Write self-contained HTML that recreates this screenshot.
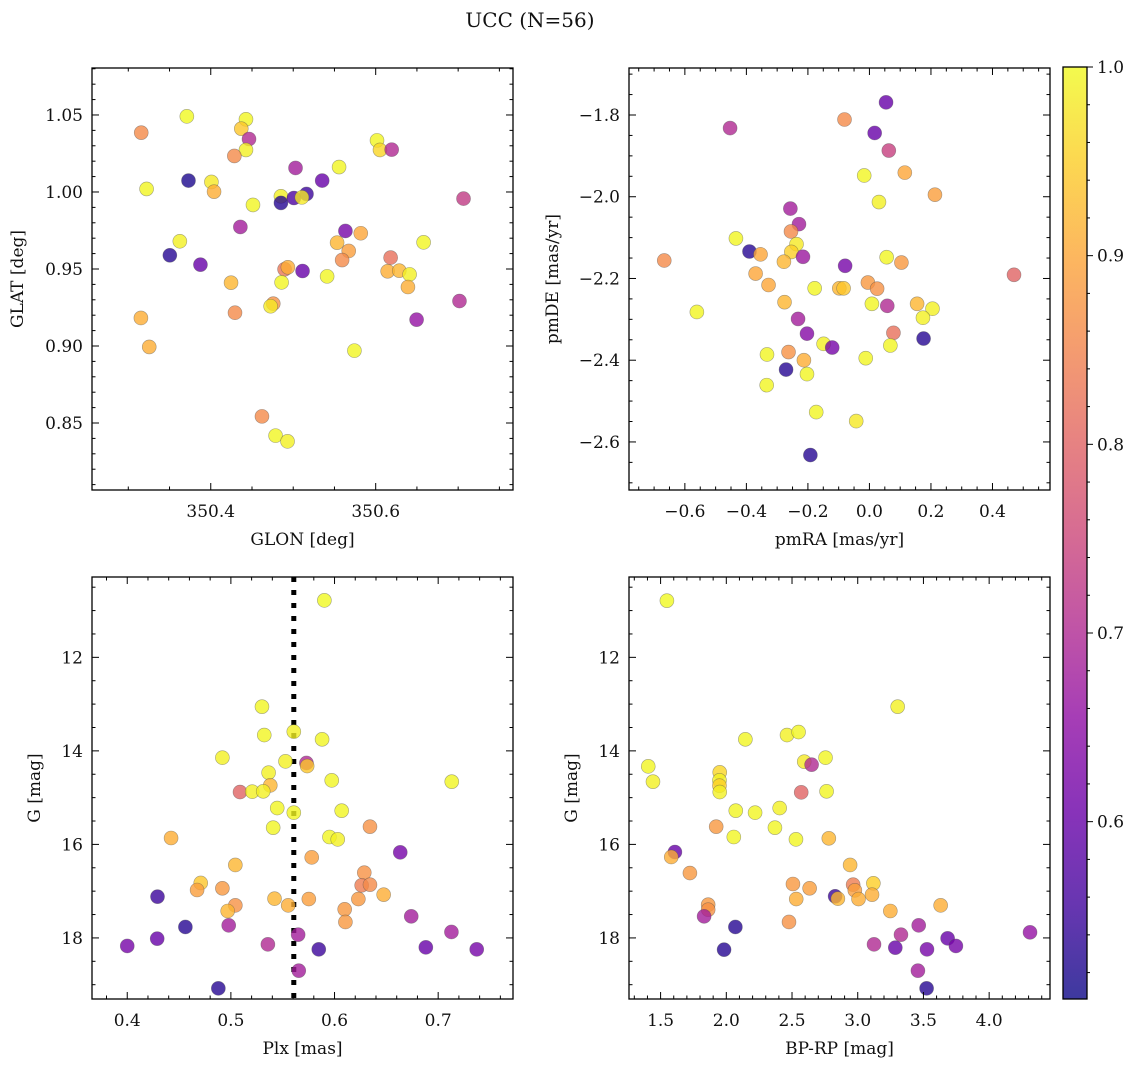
<!DOCTYPE html>
<html><head><meta charset="utf-8"><style>
body{margin:0;background:#fff}
svg text{font-family:"DejaVu Serif","Liberation Serif",serif;fill:#111}
</style></head><body>
<svg id="fig" width="1136" height="1067" viewBox="0 0 1136 1067" xmlns="http://www.w3.org/2000/svg">
<defs>
<linearGradient id="plasma" x1="0" y1="1" x2="0" y2="0">
<stop offset="0" stop-color="#0d0887"/><stop offset="0.1" stop-color="#41049d"/><stop offset="0.2" stop-color="#6a00a8"/><stop offset="0.3" stop-color="#8f0da4"/><stop offset="0.4" stop-color="#b12a90"/><stop offset="0.5" stop-color="#cc4778"/><stop offset="0.6" stop-color="#e16462"/><stop offset="0.7" stop-color="#f2844b"/><stop offset="0.8" stop-color="#fca636"/><stop offset="0.9" stop-color="#fcce25"/><stop offset="1" stop-color="#f0f921"/>
</linearGradient>
</defs>
<text x="530" y="27" font-size="20" text-anchor="middle">UCC (N=56)</text>
</svg>
<script>
// ---- data ----
const glon=[350.3157,350.371,350.4427,350.437,350.4464,350.4427,350.4286,350.6016,350.6052,350.6194,350.5028,350.5556,350.373,350.3222,350.4008,350.404,350.5351,350.4851,350.4851,350.5008,350.5161,350.5105,350.4512,350.7065,350.4359,350.5633,350.5819,350.3625,350.5532,350.5673,350.6581,350.3504,350.3875,350.5593,350.6181,350.4895,350.4935,350.5113,350.6145,350.6286,350.6411,350.6391,350.5411,350.4246,350.4859,350.4758,350.4726,350.4294,350.7016,350.6496,350.3153,350.3254,350.5742,350.4621,350.4786,350.4931];
const glat=[1.0385,1.0491,1.0472,1.0411,1.0344,1.0273,1.0234,1.0335,1.0273,1.0275,1.0156,1.0162,1.0074,1.002,1.0065,1.0002,1.0074,0.9972,0.9929,0.9961,0.9987,0.9965,0.9916,0.9957,0.9773,0.9747,0.9732,0.968,0.9671,0.9617,0.9673,0.9589,0.9528,0.9558,0.9574,0.9498,0.9511,0.9487,0.9485,0.9489,0.9465,0.9383,0.9452,0.9411,0.9413,0.9275,0.9258,0.9216,0.9292,0.9171,0.9182,0.8994,0.897,0.8543,0.8418,0.8381];
const prob1=[0.86,1.0,0.995,0.94,0.7,0.99,0.86,0.995,0.96,0.7,0.68,0.995,0.52,0.995,0.98,0.91,0.6,0.99,0.53,0.57,0.55,0.98,0.995,0.73,0.68,0.62,0.9,0.99,0.92,0.89,0.995,0.53,0.6,0.86,0.82,0.83,0.91,0.6,0.91,0.92,0.99,0.91,0.995,0.92,0.995,0.87,0.98,0.86,0.7,0.66,0.91,0.91,0.995,0.86,0.995,0.99];
const pmra=[0.054,-0.453,-0.081,0.017,0.063,-0.017,0.115,0.213,0.031,-0.257,-0.229,-0.255,-0.434,-0.237,-0.254,-0.39,-0.354,-0.216,-0.278,-0.667,-0.079,0.056,0.104,0.47,-0.37,-0.328,-0.178,-0.098,-0.084,-0.005,0.025,-0.276,0.008,0.058,0.155,0.205,0.174,-0.561,-0.232,-0.203,0.078,0.176,-0.149,-0.121,0.068,-0.333,-0.263,-0.213,-0.012,-0.271,-0.203,-0.334,-0.173,-0.043,-0.192];
const pmde=[-1.769,-1.832,-1.811,-1.844,-1.887,-1.948,-1.941,-1.995,-2.013,-2.029,-2.067,-2.085,-2.102,-2.116,-2.135,-2.134,-2.141,-2.147,-2.159,-2.156,-2.169,-2.148,-2.161,-2.191,-2.188,-2.216,-2.224,-2.224,-2.224,-2.21,-2.225,-2.258,-2.262,-2.267,-2.262,-2.274,-2.296,-2.282,-2.299,-2.335,-2.333,-2.347,-2.36,-2.369,-2.364,-2.386,-2.38,-2.4,-2.395,-2.423,-2.434,-2.461,-2.527,-2.549,-2.632];
const prob2=[0.6,0.7,0.86,0.6,0.74,0.995,0.9,0.89,0.99,0.68,0.68,0.86,0.995,0.98,0.95,0.53,0.9,0.67,0.92,0.86,0.62,0.995,0.88,0.8,0.9,0.9,0.995,0.92,0.94,0.88,0.87,0.92,0.995,0.7,0.92,0.99,0.99,0.995,0.68,0.64,0.82,0.53,0.99,0.62,0.995,0.995,0.87,0.91,0.995,0.53,0.995,0.995,0.995,0.98,0.53];
const plx=[0.5902,0.530,0.5322,0.5607,0.588,0.4918,0.5527,0.5729,0.5736,0.5364,0.538,0.5973,0.7131,0.5088,0.5206,0.5312,0.5447,0.5607,0.6069,0.5408,0.6342,0.5951,0.6031,0.4423,0.6634,0.578,0.5043,0.6287,0.6262,0.6342,0.4709,0.4674,0.4918,0.6474,0.5421,0.5752,0.5553,0.623,0.5043,0.4969,0.6098,0.6105,0.4292,0.674,0.4561,0.4979,0.4289,0.4,0.5649,0.5357,0.5848,0.6881,0.7128,0.7372,0.5655,0.4879];
const gmag3=[10.781,13.055,13.661,13.589,13.753,14.145,14.224,14.259,14.324,14.466,14.737,14.63,14.659,14.88,14.872,14.865,15.222,15.321,15.279,15.642,15.621,15.842,15.892,15.863,16.17,16.277,16.44,16.604,16.875,16.861,16.825,16.975,16.939,17.075,17.16,17.168,17.303,17.168,17.303,17.424,17.388,17.659,17.118,17.538,17.766,17.731,18.016,18.172,17.93,18.137,18.244,18.201,17.873,18.244,18.7,19.078];
const prob3=[1.0,0.995,0.995,0.99,0.995,0.99,0.99,0.7,0.94,0.99,0.92,0.995,0.995,0.8,0.99,0.99,0.995,0.995,0.995,0.995,0.87,0.995,0.99,0.91,0.62,0.89,0.92,0.87,0.84,0.86,0.94,0.89,0.88,0.91,0.92,0.89,0.91,0.88,0.87,0.92,0.88,0.88,0.55,0.68,0.53,0.68,0.6,0.62,0.68,0.7,0.55,0.6,0.68,0.62,0.68,0.53];
const bprp=[1.548,3.304,2.145,2.462,2.55,2.755,2.593,2.649,1.406,1.442,1.95,1.948,1.948,1.95,2.57,2.763,2.072,2.219,2.406,2.37,1.923,2.057,2.53,2.78,1.609,1.581,1.723,2.942,2.507,2.634,2.965,2.978,3.119,3.109,3.006,2.828,2.849,2.532,1.862,1.862,3.248,3.631,1.831,2.477,2.069,3.464,3.329,4.311,3.684,3.124,3.286,3.527,3.747,1.983,3.458,3.524];
const gmag4=[10.788,13.055,13.753,13.661,13.597,14.145,14.231,14.295,14.331,14.659,14.459,14.63,14.744,14.88,14.887,14.865,15.279,15.321,15.222,15.642,15.621,15.842,15.892,15.87,16.163,16.269,16.612,16.44,16.847,16.939,16.861,16.982,16.832,17.075,17.168,17.11,17.16,17.168,17.289,17.396,17.424,17.303,17.538,17.659,17.766,17.731,17.93,17.88,18.009,18.137,18.208,18.244,18.172,18.251,18.7,19.078];
const prob4=[1.0,0.99,0.995,0.99,0.995,0.995,0.98,0.7,0.995,0.99,0.96,0.99,0.95,0.99,0.8,0.995,0.995,0.995,0.99,0.995,0.88,0.995,0.995,0.92,0.6,0.91,0.88,0.92,0.88,0.89,0.84,0.89,0.95,0.91,0.91,0.55,0.92,0.91,0.88,0.87,0.91,0.91,0.68,0.87,0.53,0.68,0.7,0.66,0.6,0.7,0.6,0.62,0.62,0.53,0.68,0.53];
const plxLine=0.5607;
const cbTicks=[0.6,0.7,0.8,0.9,1.0];
const CMIN=0.506, CMAX=1.0;

const NS='http://www.w3.org/2000/svg';
const svg=document.getElementById('fig');
function mk(tag,attrs,parent){const e=document.createElementNS(NS,tag);for(const k in attrs)e.setAttribute(k,attrs[k]);(parent||svg).appendChild(e);return e;}
const stops=['#0d0887','#41049d','#6a00a8','#8f0da4','#b12a90','#cc4778','#e16462','#f2844b','#fca636','#fcce25','#f0f921'];
function hex(h){return [1,3,5].map(i=>parseInt(h.substr(i,2),16));}
function plasma(v){let t=(v-CMIN)/(CMAX-CMIN);t=Math.max(0,Math.min(1,t))*10;const i=Math.min(9,Math.floor(t)),f=t-i;const a=hex(stops[i]),b=hex(stops[i+1]);return 'rgb('+a.map((x,k)=>Math.round(x+(b[k]-x)*f)).join(',')+')';}
function fmt(v,d){const s=Math.abs(v).toFixed(d);return (v<-1e-9?'\u2212':'')+s;}

function panel(o){
  const g=mk('g',{});
  
  
  const sx=v=>o.x0+(v-o.xmin)/(o.xmax-o.xmin)*(o.x1-o.x0);
  const sy=o.inv?(v=>o.y0+(v-o.ymin)/(o.ymax-o.ymin)*(o.y1-o.y0)):(v=>o.y1-(v-o.ymin)/(o.ymax-o.ymin)*(o.y1-o.y0));
  if(o.vline!==undefined){const l=mk('line',{x1:sx(o.vline),x2:sx(o.vline),y1:o.y0,y2:o.y1,stroke:'#000','stroke-width':5,'stroke-dasharray':'5 8'},g);
    
    }
  for(let i=0;i<o.xs.length;i++){
    const c=mk('circle',{cx:sx(o.xs[i]),cy:sy(o.ys[i]),r:7,fill:plasma(o.cs[i]),'fill-opacity':0.8,stroke:'rgba(80,80,80,0.5)','stroke-width':0.6},g);
    
    
  }
  mk('rect',{x:o.x0,y:o.y0,width:o.x1-o.x0,height:o.y1-o.y0,fill:'none',stroke:'#000','stroke-width':1.3},g);
  const eps=1e-9;
  for(let v=Math.ceil(o.xmin/o.xmn-eps)*o.xmn;v<=o.xmax+eps;v+=o.xmn){
    const X=sx(v);const major=Math.abs(v/o.xmj-Math.round(v/o.xmj))<1e-6;const L=major?7:3.5;
    mk('line',{x1:X,x2:X,y1:o.y1,y2:o.y1-L,stroke:'#000','stroke-width':1},g);
    mk('line',{x1:X,x2:X,y1:o.y0,y2:o.y0+L,stroke:'#000','stroke-width':1},g);
    if(major){const t=mk('text',{x:X,y:o.y1+27,'font-size':17,'text-anchor':'middle'},g);t.textContent=fmt(v,o.xd);
      
      }
  }
  for(let v=Math.ceil(o.ymin/o.ymn-eps)*o.ymn;v<=o.ymax+eps;v+=o.ymn){
    const Y=sy(v);const major=Math.abs(v/o.ymj-Math.round(v/o.ymj))<1e-6;const L=major?7:3.5;
    mk('line',{x1:o.x0,x2:o.x0+L,y1:Y,y2:Y,stroke:'#000','stroke-width':1},g);
    mk('line',{x1:o.x1,x2:o.x1-L,y1:Y,y2:Y,stroke:'#000','stroke-width':1},g);
    if(major){const t=mk('text',{x:o.x0-9,y:Y+6,'font-size':17,'text-anchor':'end'},g);t.textContent=fmt(v,o.yd);
      
      }
  }
  const xl=mk('text',{x:(o.x0+o.x1)/2,y:o.y1+55,'font-size':17,'text-anchor':'middle'},g);xl.textContent=o.xlab;
  
  
  const yx=o.ylx, yy=(o.y0+o.y1)/2;
  const yl=mk('text',{x:yx,y:yy,'font-size':17,'text-anchor':'middle',transform:'rotate(-90 '+yx+' '+yy+')'},g);yl.textContent=o.ylab;
  
  
}
panel({name:'glon-glat-panel',x0:92,x1:513,y0:68,y1:490,xmin:350.256,xmax:350.7665,ymin:0.8065,ymax:1.0805,xmj:0.2,xmn:0.05,ymj:0.05,ymn:0.01,xd:1,yd:2,xs:glon,ys:glat,cs:prob1,xlab:'GLON [deg]',ylab:'GLAT [deg]',ylx:23});
panel({name:'pmra-pmde-panel',x0:629,x1:1050,y0:68,y1:490,xmin:-0.7816,xmax:0.587,ymin:-2.7176,ymax:-1.685,xmj:0.2,xmn:0.05,ymj:0.2,ymn:0.05,xd:1,yd:1,xs:pmra,ys:pmde,cs:prob2,xlab:'pmRA [mas/yr]',ylab:'pmDE [mas/yr]',ylx:558});
panel({name:'plx-g-panel',x0:92,x1:513,y0:577,y1:999,xmin:0.366,xmax:0.7722,ymin:10.282,ymax:19.306,inv:true,xmj:0.1,xmn:0.02,ymj:2,ymn:0.5,xd:1,yd:0,xs:plx,ys:gmag3,cs:prob3,xlab:'Plx [mas]',ylab:'G [mag]',ylx:40,vline:plxLine});
panel({name:'bprp-g-panel',x0:629,x1:1050,y0:577,y1:999,xmin:1.2596,xmax:4.463,ymin:10.282,ymax:19.306,inv:true,xmj:0.5,xmn:0.1,ymj:2,ymn:0.5,xd:1,yd:0,xs:bprp,ys:gmag4,cs:prob4,xlab:'BP-RP [mag]',ylab:'G [mag]',ylx:577});
const cb=mk('g',{});


const cy0=67,cy1=999,cx0=1063,cx1=1087;
mk('rect',{x:cx0,y:cy0,width:cx1-cx0,height:cy1-cy0,fill:'url(#plasma)','fill-opacity':0.8},cb);
mk('rect',{x:cx0,y:cy0,width:cx1-cx0,height:cy1-cy0,fill:'none',stroke:'#000','stroke-width':1.3},cb);
const cyS=v=>cy1-(v-CMIN)/(CMAX-CMIN)*(cy1-cy0);
for(let v=0.52;v<=1.0001;v+=0.02){const Y=cyS(v);const major=Math.abs(v*10-Math.round(v*10))<1e-6;
  mk('line',{x1:cx1,x2:cx1+(major?6:3),y1:Y,y2:Y,stroke:'#000','stroke-width':1},cb);}
cbTicks.forEach(v=>{const t=mk('text',{x:cx1+10,y:cyS(v)+6,'font-size':17},cb);t.textContent=v.toFixed(1);
  
  });
</script>
</body></html>
